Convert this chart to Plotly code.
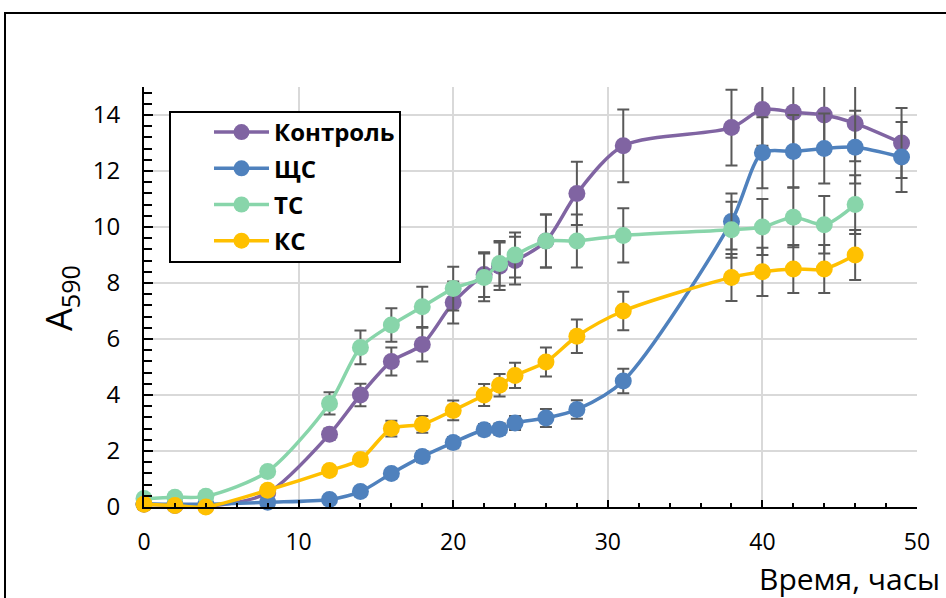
import plotly.graph_objects as go

# Sampling times, hours
hours = [0, 2, 4, 8, 12, 14, 16, 18, 20, 22, 23, 24, 26, 28, 31, 38, 40, 42, 44, 46, 49]

# Absorbance at 590 nm (mean) and error bars per series
control = [0.1, 0.05, 0.02, 0.5, 2.6, 4.0, 5.2, 5.8, 7.3, 8.3, 8.6, 8.8, 9.5, 11.2, 12.9,
           13.55, 14.2, 14.1, 14.0, 13.7, 13.0]
control_err = [0.05, 0.05, 0.05, 0.1, 0.2, 0.4, 0.5, 0.6, 0.75, 0.8, 0.85, 0.85, 0.95, 1.13, 1.3,
               1.35, 1.3, 1.3, 1.3, 1.35, 1.25]

shc = [0.12, 0.1, 0.1, 0.17, 0.27, 0.55, 1.2, 1.8, 2.3, 2.76, 2.78, 3.0, 3.18, 3.48, 4.5,
       10.2, 12.65, 12.7, 12.8, 12.85, 12.5]
shc_err = [0.05, 0.05, 0.05, 0.05, 0.1, 0.15, 0.15, 0.2, 0.2, 0.2, 0.2, 0.25, 0.32, 0.33, 0.44,
           1.0, 1.27, 1.3, 1.25, 1.3, 1.25]

tc = [0.3, 0.35, 0.38, 1.27, 3.7, 5.7, 6.5, 7.15, 7.8, 8.2, 8.7, 9.0, 9.5, 9.5, 9.7,
      9.9, 10.0, 10.35, 10.08, 10.8]
tc_err = [0.05, 0.05, 0.05, 0.1, 0.4, 0.6, 0.6, 0.72, 0.78, 0.85, 0.8, 0.8, 0.95, 0.95, 0.97,
          1.0, 1.0, 1.07, 1.03, 1.05]

kc = [0.1, 0.05, 0.0, 0.6, 1.3, 1.7, 2.8, 2.95, 3.45, 4.0, 4.35, 4.7, 5.18, 6.1, 7.0,
      8.2, 8.4, 8.5, 8.5, 9.0]
kc_err = [0.03, 0.03, 0.03, 0.08, 0.1, 0.15, 0.28, 0.3, 0.35, 0.39, 0.4, 0.45, 0.52, 0.6, 0.69,
          0.84, 0.86, 0.86, 0.86, 0.89]

names = ["Контроль", "ЩС", "ТС", "КС"]
colors = ["#8064A2", "#4F81BD", "#88D5AA", "#FFC000"]
series = [control, shc, tc, kc]
errors = [control_err, shc_err, tc_err, kc_err]

FONT = "'Open Sans', 'Noto Sans', sans-serif"
W, H = 946, 598
L, R, T, B = 144, 29, 87, 91
PW, PH = W - L - R, H - T - B


def px_x(px):
    return (px - L) / PW


def px_y(py):
    return (H - B - py) / PH


fig = go.Figure()
for name, color, ys, es in zip(names, colors, series, errors):
    fig.add_trace(go.Scatter(
        x=hours[:len(ys)], y=ys, name=name, legendgroup=name,
        mode="lines+markers", cliponaxis=False,
        line=dict(color=color, width=3.5, shape="spline", smoothing=0.8),
        marker=dict(color=color, size=17),
        error_y=dict(type="data", array=es, visible=True,
                     color="#595959", thickness=2, width=6),
    ))

fig.update_layout(
    width=W, height=H,
    margin=dict(l=L, r=R, t=T, b=B),
    paper_bgcolor="white", plot_bgcolor="white",
    font=dict(family=FONT, color="black"),
    showlegend=True,
    legend=dict(
        x=px_x(209), y=px_y(110), xanchor="left", yanchor="top",
        borderwidth=0, bgcolor="rgba(0,0,0,0)",
        font=dict(size=24, weight="bold", family=FONT),
        tracegroupgap=2, itemwidth=55,
    ),
    xaxis=dict(
        range=[0, 50], dtick=10, tick0=0,
        showline=True, linecolor="black", linewidth=2,
        ticks="inside", ticklen=7, tickwidth=2, tickcolor="black",
        minor=dict(dtick=2, ticks="inside", ticklen=4, tickwidth=2, tickcolor="black", showgrid=False),
        showgrid=True, gridcolor="#D9D9D9", gridwidth=2,
        zeroline=False, tickfont=dict(size=23, family=FONT),
        ticklabelstandoff=13,
    ),
    yaxis=dict(
        range=[0, 15], dtick=2, tick0=0,
        showline=True, linecolor="black", linewidth=2,
        ticks="inside", ticklen=9, tickwidth=2, tickcolor="black",
        minor=dict(dtick=0.4, ticks="inside", ticklen=8, tickwidth=2, tickcolor="black", showgrid=False),
        showgrid=True, gridcolor="#D9D9D9", gridwidth=2,
        zeroline=False, tickfont=dict(size=24, family=FONT),
        ticklabelstandoff=17,
    ),
    annotations=[
        dict(text="A<sub>590</sub>", xref="paper", yref="paper",
             x=px_x(60), y=px_y(298), xanchor="center", yanchor="middle",
             textangle=-90, showarrow=False, font=dict(size=36, family=FONT)),
        dict(text="Время, часы", xref="paper", yref="paper",
             x=px_x(942), y=px_y(578), xanchor="right", yanchor="middle",
             showarrow=False, font=dict(size=30, family=FONT)),
    ],
    shapes=[
        # outer frame of the chart
        dict(type="rect", xref="paper", yref="paper", layer="below",
             x0=px_x(5), x1=px_x(990), y0=px_y(640), y1=px_y(13),
             line=dict(color="black", width=2), fillcolor="rgba(0,0,0,0)"),
        # legend box
        dict(type="rect", xref="paper", yref="paper", layer="above",
             x0=px_x(170), x1=px_x(400), y0=px_y(262), y1=px_y(112),
             line=dict(color="black", width=2), fillcolor="white"),
    ],
)

fig.write_html("out.html")
